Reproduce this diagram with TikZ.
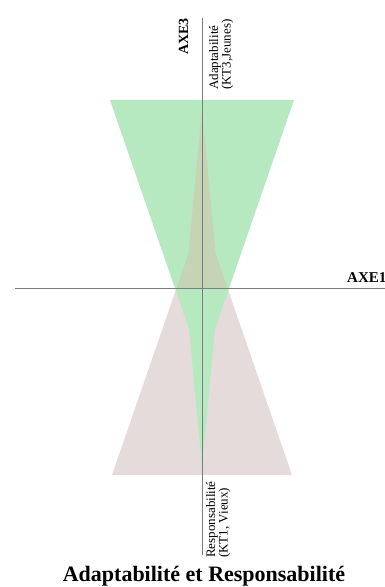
\documentclass[tikz,border=0pt]{standalone}
\usepackage{fontspec}
\setmainfont{Liberation Serif}
\usetikzlibrary{positioning}
\definecolor{vert}{RGB}{182,233,192}
\definecolor{rose}{RGB}{230,219,219}
\definecolor{mixte}{RGB}{196,212,180}
\definecolor{axegris}{RGB}{125,125,125}

\begin{document}
\begin{tikzpicture}[x=1pt, y=-1pt,
    axe/.style={draw=axegris, line width=0.6pt},
    axelab/.style={inner sep=0pt, font=\bfseries\fontsize{14}{16}\selectfont},
    lab/.style={rotate=90, inner sep=0pt, align=left, font=\fontsize{13}{12.5}\selectfont}]
    \useasboundingbox (0,0) rectangle (385,587);

    % Zones
    \fill[rose] (112,475) -- (292,475) -- (215.6,253.6) -- (202,110) -- (188.4,253.6) -- cycle;
    \fill[vert] (110,100) -- (294,100) -- (215,329) -- (202,466) -- (189,329) -- cycle;
    \begin{scope}
        \clip (0,0) rectangle (385,288);
        \fill[mixte] (112,475) -- (292,475) -- (215.6,253.6) -- (202,110) -- (188.4,253.6) -- cycle;
    \end{scope}

    % Axes
    \coordinate (g) at (15,288);
    \coordinate (d) at (385,288);
    \coordinate (h) at (202,18);
    \coordinate (b) at (202,555);
    \draw[axe] (g) -- (d);
    \draw[axe] (h) -- (b);

    % Labels
    \node[axelab, font=\bfseries\fontsize{15}{17}\selectfont, anchor=base west] (axe1) at (347,282) {AXE1};
    \node[axelab, rotate=90, anchor=base west] (axe3) at (188,55) {AXE3};
    \node[lab, anchor=north west] (adapt) at (209,90) {Adaptabilité\\(KT3,Jeunes)};
    \node[lab, anchor=north west] (respons) at (206,558) {Responsabilité\\(KT1, Vieux)};
    \node[font=\bfseries\fontsize{22}{24}\selectfont, anchor=base] (titre) at (204,581) {Adaptabilité et Responsabilité};
\end{tikzpicture}
\end{document}
